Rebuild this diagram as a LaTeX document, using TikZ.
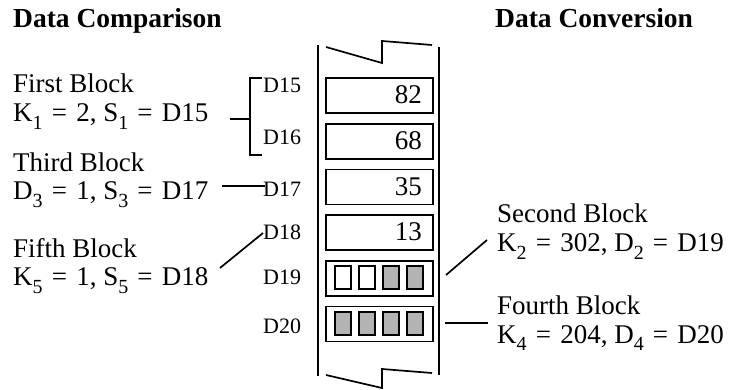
\documentclass[tikz,border=0pt]{standalone}
\usepackage{fontspec}
\setmainfont{Liberation Serif}
\newcommand\sbs[1]{\raisebox{-0.28em}{\fontsize{20}{20}\selectfont #1}}
\newcommand\eqs{\hspace{0.34em}=\hspace{0.34em}}
\definecolor{bitgray}{HTML}{B3B3B3}
\tikzset{
  txt/.style={anchor=base west, inner sep=0pt, font=\fontsize{27}{28}\selectfont},
  ttl/.style={anchor=base west, inner sep=0pt, font=\fontsize{27.5}{28}\selectfont\bfseries},
  dlab/.style={anchor=base west, inner sep=0pt, font=\fontsize{22}{22}\selectfont},
  num/.style={anchor=base east, inner sep=0pt, font=\fontsize{27}{28}\selectfont},
  wordbox/.style={draw, line width=1.7pt, minimum width=107pt, minimum height=35pt, inner sep=0pt},
  bit/.style={draw, line width=1.6pt, minimum width=16pt, minimum height=23pt, inner sep=0pt},
  conn/.style={line width=1.7pt},
  rail/.style={line width=2.3pt},
}
\begin{document}
\begin{tikzpicture}[x=1pt,y=-1pt]
\useasboundingbox (0,0) rectangle (734,390);
% titles
\node[ttl] (t1) at (13,28) {Data Comparison};
\node[ttl] (t2) at (495,28) {Data Conversion};
% memory column rails
\coordinate (lt) at (318,45); \coordinate (lb) at (318,376);
\coordinate (rt) at (439,47); \coordinate (rb) at (439,375);
\draw[rail] (lt) -- (lb);
\draw[rail] (rt) -- (rb);
% break marks
\draw[conn] (326,47) -- (382,63) -- (382,41) -- (432,45);
\draw[conn] (326,375) -- (382,388) -- (382,369) -- (432,373);
% word boxes
\node[wordbox] (w15) at (379.5,95.5) {};
\node[wordbox] (w16) at (379.5,141.5) {};
\node[wordbox] (w17) at (379.5,187) {};
\node[wordbox] (w18) at (379.5,232.5) {};
\node[wordbox] (w19) at (379.5,278.5) {};
\node[wordbox] (w20) at (379.5,324) {};
\node[num] (n15) at (422,104) {82};
\node[num] (n16) at (422,150) {68};
\node[num] (n17) at (422,195.5) {35};
\node[num] (n18) at (422,241) {13};
% bits
\node[bit] (a1) at (343,277.5) {};
\node[bit] (a2) at (367,277.5) {};
\node[bit, fill=bitgray] (a3) at (391,277.5) {};
\node[bit, fill=bitgray] (a4) at (415,277.5) {};
\node[bit, fill=bitgray] (b1) at (343,323.5) {};
\node[bit, fill=bitgray] (b2) at (367,323.5) {};
\node[bit, fill=bitgray] (b3) at (391,323.5) {};
\node[bit, fill=bitgray] (b4) at (415,323.5) {};
% address labels
\node[dlab] (d15) at (263,93) {D15};
\node[dlab] (d16) at (263,145) {D16};
\node[dlab] (d17) at (263,197) {D17};
\node[dlab] (d18) at (263,240) {D18};
\node[dlab] (d19) at (263,285) {D19};
\node[dlab] (d20) at (263,333) {D20};
% left texts
\node[txt] (fb) at (13,93) {First Block};
\node[txt] (fbk) at (13,122) {K\sbs{1}\eqs 2, S\sbs{1}\eqs D15};
\node[txt] (tb) at (13,172) {Third Block};
\node[txt] (tbk) at (13,200) {D\sbs{3}\eqs 1, S\sbs{3}\eqs D17};
\node[txt] (vb) at (13,258) {Fifth Block};
\node[txt] (vbk) at (13,286) {K\sbs{5}\eqs 1, S\sbs{5}\eqs D18};
% right texts
\node[txt] (sb) at (497,223) {Second Block};
\node[txt] (sbk) at (497,252) {K\sbs{2}\eqs 302, D\sbs{2}\eqs D19};
\node[txt] (ob) at (497,315) {Fourth Block};
\node[txt] (obk) at (497,343) {K\sbs{4}\eqs 204, D\sbs{4}\eqs D20};
% connectors
\coordinate (c1) at (230,119);
\coordinate (br) at (250,119);
\draw[conn] (c1) -- (br);
\draw[conn] (262,78) -- (250,78) -- (250,155) -- (262,155);
\coordinate (c3a) at (222,186); \coordinate (c3b) at (265,186);
\draw[conn] (c3a) -- (c3b);
\coordinate (c5a) at (220,268); \coordinate (c5b) at (263,233);
\draw[conn] (c5a) -- (c5b);
\coordinate (c2a) at (446,275); \coordinate (c2b) at (487,240);
\draw[conn] (c2a) -- (c2b);
\coordinate (c4a) at (445,323); \coordinate (c4b) at (488,323);
\draw[conn] (c4a) -- (c4b);
\end{tikzpicture}
\end{document}
